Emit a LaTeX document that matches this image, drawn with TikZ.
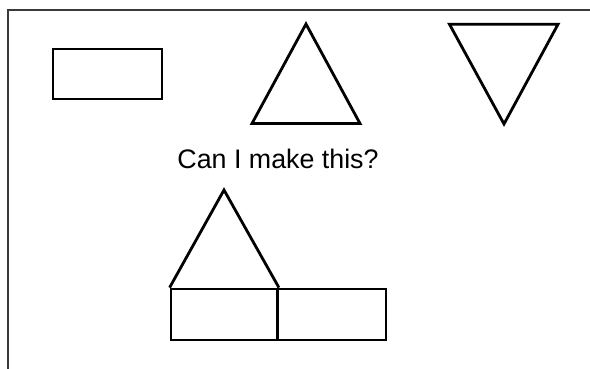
\documentclass[tikz,border=0pt]{standalone}
\usepackage{fontspec}
\setmainfont{Liberation Sans}
\usetikzlibrary{positioning,calc}
\definecolor{frameink}{HTML}{3A3A3A}
\tikzset{
    every picture/.style={line join=miter},
    outline/.style={draw=black,line width=2.8pt},
    boxshape/.style={outline,inner sep=0pt,minimum width=109pt,minimum height=50pt},
    framerule/.style={draw=frameink,line width=1.6pt},
    question/.style={font=\fontsize{26.8}{30}\selectfont,inner sep=0pt,anchor=base}
}

\begin{document}
\begin{tikzpicture}[x=1pt,y=-1pt]
  \useasboundingbox (0,0) rectangle (590,369);
  % page frame
  \coordinate (fbl) at (8,369); \coordinate (ftl) at (8,10); \coordinate (ftr) at (590,10);
  \draw[framerule] (fbl) -- (ftl) -- (ftr);
  % top row
  \node[boxshape] (box) at (107.5,74) {};
  \coordinate (upl) at (252,123.5); \coordinate (upt) at (306,24); \coordinate (upr) at (360,123.5);
  \draw[outline] (upl) -- (upt) -- (upr) -- cycle;
  \coordinate (dnl) at (449.5,24.3); \coordinate (dnr) at (558,24.3); \coordinate (dnb) at (504,124);
  \draw[outline] (dnl) -- (dnr) -- (dnb) -- cycle;
  \node[question] (ask) at (278,168.3) {Can I make this?};
  % house
  \node[boxshape,minimum width=106.5pt,minimum height=51pt] (left) at (224.25,314.5) {};
  \node[boxshape,minimum width=108.5pt,minimum height=51pt] (right) at (331.75,314.5) {};
  \coordinate (roof) at (224,190);
  \draw[outline] (left.north west) -- (roof) -- (left.north east);
\end{tikzpicture}
\end{document}
